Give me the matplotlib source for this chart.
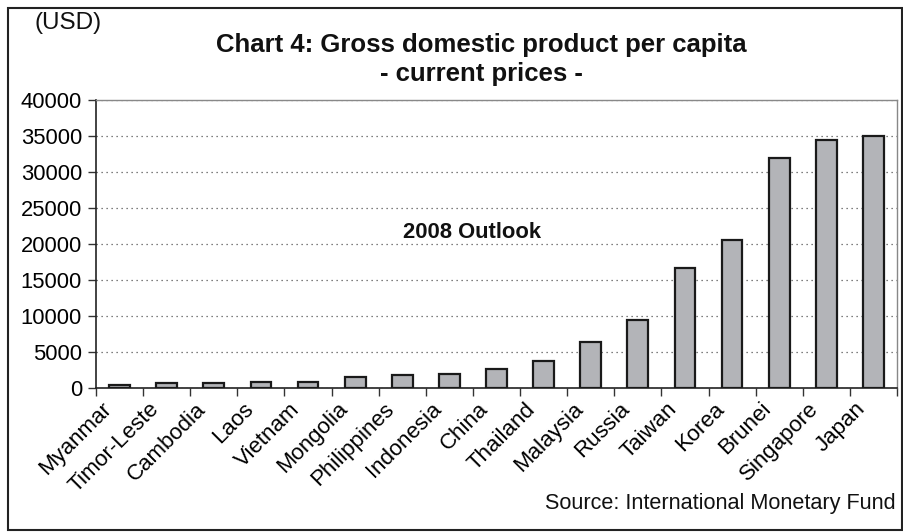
import matplotlib
matplotlib.use("Agg")
import matplotlib.pyplot as plt
from matplotlib.patches import Rectangle
from matplotlib.transforms import ScaledTranslation
import numpy as np

plt.rcParams['font.family'] = ['Liberation Sans', 'DejaVu Sans']

countries = ["Myanmar", "Timor-Leste", "Cambodia", "Laos", "Vietnam", "Mongolia",
             "Philippines", "Indonesia", "China", "Thailand", "Malaysia", "Russia",
             "Taiwan", "Korea", "Brunei", "Singapore", "Japan"]
gdp_per_capita = [400, 650, 650, 900, 900, 1500, 1800, 2000, 2600, 3700, 6400,
                  9400, 16600, 20500, 31900, 34400, 35000]
yticks = [0, 5000, 10000, 15000, 20000, 25000, 30000, 35000, 40000]

W, H = 904, 532
fig = plt.figure(figsize=(W / 100, H / 100), dpi=100)
ax = fig.add_axes([96 / W, 1 - 388 / H, (897 - 96) / W, (388 - 100) / H])

x = np.arange(len(countries))
ax.bar(x, gdp_per_capita, width=0.44, color="#b3b4b8", edgecolor="#1a1a1a",
       linewidth=1.6, zorder=3)

ax.set_xlim(-0.5, len(countries) - 0.5)
ax.set_ylim(0, 40000)
ax.set_yticks(yticks)
ax.set_yticklabels([str(v) for v in yticks], fontsize=15.8)
ax.yaxis.grid(True, linestyle=(0, (1, 3)), color="#555555", linewidth=0.9, zorder=0)

ax.set_xticks(x)
ax.set_xticklabels(countries, rotation=45, ha="right", va="center",
                   rotation_mode="anchor", fontsize=16)
ax.tick_params(axis="x", which="major", length=0, pad=0)
offset = ScaledTranslation(-11 / 100, -18 / 100, fig.dpi_scale_trans)
for lab in ax.get_xticklabels():
    lab.set_transform(lab.get_transform() + offset)
ax.set_xticks(np.arange(-0.5, len(countries), 1.0), minor=True)
ax.tick_params(axis="x", which="minor", length=6, width=1, color="#333333", direction="out")
ax.tick_params(axis="y", length=6, width=1, color="#333333", direction="out", pad=4)

for side in ["left", "bottom"]:
    ax.spines[side].set_color("#222222")
    ax.spines[side].set_linewidth(1.2)
for side in ["top", "right"]:
    ax.spines[side].set_color("#888888")
    ax.spines[side].set_linewidth(1.0)

fig.text(481 / W, 1 - 45 / H, "Chart 4: Gross domestic product per capita",
         ha="center", va="center", fontsize=18.5, fontweight="bold", color="#111111")
fig.text(481 / W, 1 - 74 / H, "- current prices -",
         ha="center", va="center", fontsize=18.5, fontweight="bold", color="#111111")
fig.text(34 / W, 1 - 23 / H, "(USD)", ha="left", va="center", fontsize=17.5, color="#111111")
fig.text(403 / W, 1 - 232 / H, "2008 Outlook", ha="left", va="center", fontsize=15.8,
         fontweight="bold", color="#111111", zorder=4)
fig.text(896 / W, 1 - 503 / H, "Source: International Monetary Fund",
         ha="right", va="center", fontsize=15.6, color="#111111")

fig.patches.append(Rectangle((8 / W, 1 - 530 / H), (902 - 8) / W, (530 - 8) / H,
                             transform=fig.transFigure, fill=False,
                             edgecolor="#222222", linewidth=1.5))

fig.savefig("out.png", dpi=100)
